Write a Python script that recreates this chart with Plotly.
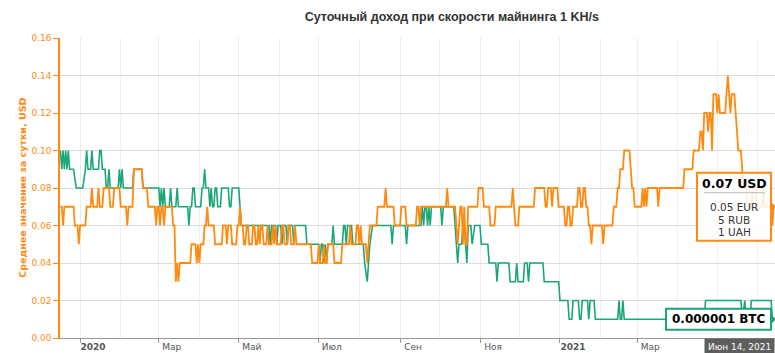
import pandas as pd
import plotly.graph_objects as go

# ---- data -------------------------------------------------------------
# days counted from 2020-01-01 (negative = December 2019)
usd_days = [-15, -14, -13, -12, -5, -4, -2, -1, 0, 4, 5, 8, 9, 10, 13, 14, 15, 17, 18, 22, 23, 25, 26, 30, 31, 35,
            36, 37, 40, 41, 47, 48, 51, 52, 57, 58, 59, 60, 61, 62, 63, 64, 65, 70, 71, 72, 73, 74, 75, 76, 84, 85,
            88, 89, 90, 91, 92, 94, 95, 96, 97, 98, 102, 103, 108, 109, 111, 112, 113, 115, 116, 119, 120, 121, 122,
            123, 124, 125, 126, 127, 128, 129, 131, 132, 133, 134, 135, 136, 137, 138, 139, 140, 142, 143, 144, 146,
            147, 148, 149, 150, 153, 154, 155, 156, 158, 159, 160, 161, 163, 164, 165, 176, 177, 181, 182, 183, 185,
            186, 187, 188, 189, 193, 194, 199, 200, 205, 206, 207, 210, 211, 212, 213, 214, 215, 218, 219, 220, 221,
            226, 227, 232, 233, 234, 239, 240, 244, 245, 248, 249, 256, 257, 258, 259, 260, 279, 280, 281, 286, 287,
            288, 290, 291, 292, 293, 294, 295, 296, 303, 304, 307, 308, 312, 313, 316, 317, 329, 330, 331, 332, 334,
            335, 346, 347, 354, 355, 356, 357, 359, 360, 361, 364, 365, 369, 370, 371, 372, 373, 374, 375, 376, 379,
            380, 381, 382, 383, 384, 385, 386, 387, 388, 389, 390, 391, 398, 399, 400, 406, 407, 409, 410, 411, 412,
            414, 415, 419, 420, 421, 422, 423, 428, 429, 430, 431, 432, 433, 440, 441, 442, 460, 461, 467, 468, 472,
            473, 474, 475, 476, 478, 479, 480, 481, 482, 483, 485, 486, 487, 488, 492, 493, 494, 495, 496, 497, 499,
            500, 501, 502, 504, 505, 506, 508, 509, 512, 513, 515, 516, 520, 521, 522, 527, 528, 529, 530]
usd_values = [0.07, 0.07, 0.06, 0.07, 0.07, 0.06, 0.06, 0.05, 0.06, 0.06, 0.07, 0.07, 0.08, 0.07, 0.07, 0.08, 0.07,
              0.07, 0.08, 0.08, 0.07, 0.07, 0.08, 0.08, 0.07, 0.07, 0.06, 0.07, 0.07, 0.09, 0.09, 0.08, 0.08, 0.07,
              0.07, 0.06, 0.07, 0.07, 0.06, 0.07, 0.07, 0.06, 0.07, 0.07, 0.06, 0.06, 0.03, 0.04, 0.03, 0.04, 0.04,
              0.05, 0.05, 0.04, 0.05, 0.04, 0.05, 0.05, 0.06, 0.06, 0.07, 0.06, 0.06, 0.05, 0.05, 0.06, 0.06, 0.05,
              0.06, 0.06, 0.05, 0.05, 0.06, 0.06, 0.07, 0.06, 0.06, 0.05, 0.05, 0.06, 0.06, 0.05, 0.05, 0.06, 0.06,
              0.05, 0.05, 0.06, 0.05, 0.06, 0.06, 0.05, 0.05, 0.06, 0.05, 0.05, 0.06, 0.05, 0.06, 0.05, 0.05, 0.06,
              0.06, 0.05, 0.05, 0.06, 0.06, 0.05, 0.05, 0.06, 0.05, 0.05, 0.04, 0.04, 0.05, 0.04, 0.04, 0.05, 0.04,
              0.04, 0.05, 0.05, 0.04, 0.04, 0.05, 0.05, 0.06, 0.05, 0.05, 0.06, 0.06, 0.05, 0.06, 0.05, 0.05, 0.04,
              0.05, 0.06, 0.06, 0.07, 0.07, 0.08, 0.07, 0.07, 0.06, 0.06, 0.07, 0.07, 0.06, 0.06, 0.07, 0.07, 0.06,
              0.07, 0.07, 0.08, 0.07, 0.07, 0.06, 0.05, 0.07, 0.07, 0.05, 0.07, 0.05, 0.05, 0.07, 0.07, 0.08, 0.08,
              0.07, 0.07, 0.06, 0.06, 0.07, 0.07, 0.08, 0.07, 0.06, 0.06, 0.07, 0.07, 0.08, 0.08, 0.07, 0.07, 0.08,
              0.08, 0.07, 0.08, 0.08, 0.07, 0.07, 0.06, 0.06, 0.07, 0.07, 0.06, 0.06, 0.07, 0.07, 0.08, 0.08, 0.07,
              0.07, 0.08, 0.08, 0.07, 0.07, 0.06, 0.06, 0.05, 0.06, 0.06, 0.05, 0.06, 0.06, 0.07, 0.07, 0.08, 0.08,
              0.09, 0.09, 0.10, 0.10, 0.09, 0.08, 0.08, 0.07, 0.07, 0.08, 0.07, 0.08, 0.07, 0.08, 0.08, 0.07, 0.08,
              0.08, 0.09, 0.09, 0.10, 0.10, 0.11, 0.11, 0.10, 0.12, 0.12, 0.11, 0.12, 0.12, 0.10, 0.13, 0.13, 0.12,
              0.13, 0.12, 0.12, 0.13, 0.14, 0.13, 0.12, 0.13, 0.13, 0.12, 0.11, 0.10, 0.10, 0.09, 0.08, 0.08, 0.07,
              0.07, 0.08, 0.08, 0.07, 0.07, 0.08, 0.07, 0.07, 0.06, 0.07, 0.07]

btc_days = [-15, -14, -13, -12, -11, -10, -9, -8, -5, -3, 2, 4, 5, 6, 8, 9, 10, 14, 15, 16, 17, 19, 20, 21, 22, 23,
            29, 30, 31, 32, 33, 40, 41, 47, 48, 60, 61, 62, 63, 64, 65, 68, 69, 70, 73, 74, 75, 82, 83, 84, 85, 86,
            87, 88, 92, 93, 94, 95, 96, 98, 99, 100, 101, 102, 103, 104, 105, 107, 108, 113, 114, 115, 116, 121, 122,
            123, 144, 145, 146, 149, 150, 151, 153, 154, 155, 157, 158, 159, 162, 163, 164, 172, 173, 182, 183, 184,
            185, 186, 187, 188, 189, 192, 193, 194, 200, 201, 202, 203, 204, 207, 208, 216, 217, 219, 221, 223, 237,
            238, 239, 248, 249, 250, 260, 261, 262, 263, 264, 265, 266, 267, 268, 275, 276, 277, 285, 286, 288, 289,
            291, 292, 293, 295, 296, 298, 299, 301, 305, 306, 311, 312, 317, 318, 319, 327, 328, 332, 333, 334, 338,
            339, 341, 342, 343, 353, 354, 365, 366, 372, 373, 375, 376, 380, 381, 382, 383, 387, 388, 389, 392, 393,
            410, 411, 412, 413, 414, 415, 476, 477, 504, 505, 507, 508, 511, 512, 527, 528, 530]
btc_values = [0.10, 0.09, 0.10, 0.09, 0.10, 0.09, 0.10, 0.09, 0.09, 0.08, 0.08, 0.09, 0.10, 0.09, 0.09, 0.10, 0.09,
              0.09, 0.10, 0.10, 0.09, 0.09, 0.08, 0.08, 0.09, 0.08, 0.08, 0.09, 0.08, 0.09, 0.08, 0.08, 0.09, 0.09,
              0.08, 0.08, 0.07, 0.08, 0.07, 0.08, 0.07, 0.07, 0.08, 0.07, 0.07, 0.08, 0.07, 0.07, 0.06, 0.07, 0.07,
              0.08, 0.08, 0.07, 0.07, 0.08, 0.08, 0.09, 0.08, 0.08, 0.07, 0.08, 0.07, 0.07, 0.08, 0.08, 0.07, 0.07,
              0.08, 0.08, 0.07, 0.07, 0.08, 0.08, 0.07, 0.06, 0.06, 0.05, 0.06, 0.06, 0.05, 0.06, 0.06, 0.05, 0.06,
              0.06, 0.05, 0.06, 0.06, 0.05, 0.06, 0.06, 0.05, 0.05, 0.04, 0.05, 0.05, 0.04, 0.05, 0.04, 0.05, 0.05,
              0.06, 0.05, 0.05, 0.06, 0.06, 0.05, 0.06, 0.06, 0.05, 0.05, 0.04, 0.03, 0.05, 0.06, 0.06, 0.05, 0.06,
              0.06, 0.05, 0.06, 0.06, 0.07, 0.06, 0.07, 0.07, 0.06, 0.07, 0.06, 0.07, 0.07, 0.06, 0.07, 0.07, 0.06,
              0.04, 0.05, 0.05, 0.06, 0.06, 0.04, 0.06, 0.06, 0.05, 0.06, 0.06, 0.05, 0.05, 0.04, 0.04, 0.03, 0.04,
              0.04, 0.03, 0.03, 0.04, 0.03, 0.03, 0.04, 0.04, 0.03, 0.04, 0.04, 0.03, 0.03, 0.02, 0.02, 0.01, 0.01,
              0.02, 0.02, 0.01, 0.01, 0.02, 0.02, 0.01, 0.02, 0.02, 0.01, 0.01, 0.02, 0.01, 0.01, 0.02, 0.01, 0.01,
              0.02, 0.02, 0.01, 0.02, 0.01, 0.01, 0.02, 0.02, 0.01, 0.01]

tick_dates = ["2020-01-01", "2020-03-01", "2020-05-01", "2020-07-01", "2020-09-01",
              "2020-11-01", "2021-01-01", "2021-03-01"]
tick_labels = ["<b>2020</b>", "Мар", "Май", "Июл", "Сен", "Ноя", "<b>2021</b>", "Мар"]
y_ticks = [0.00, 0.02, 0.04, 0.06, 0.08, 0.10, 0.12, 0.14, 0.16]

tooltip_main = "0.07 USD"
tooltip_lines = ["0.05 EUR", "5 RUB", "1 UAH"]
btc_label = "0.000001 BTC"
date_label = "Июн 14, 2021"
title_text = "Суточный доход при скорости майнинга 1 KH/s"
y_title = "Среднее значение за сутки, USD"

# ---- figure -----------------------------------------------------------
ORANGE = "#ff8a12"
GREEN = "#1ba57a"
FONT = "DejaVu Sans"

base = pd.Timestamp("2020-01-01")
usd_x = base + pd.to_timedelta(usd_days, unit="D")
btc_x = base + pd.to_timedelta(btc_days, unit="D")

fig = go.Figure()
fig.add_trace(go.Scatter(x=btc_x, y=btc_values, mode="lines",
                         line=dict(color=GREEN, width=1.6), hoverinfo="skip"))
fig.add_trace(go.Scatter(x=usd_x, y=usd_values, mode="lines",
                         line=dict(color=ORANGE, width=1.8), hoverinfo="skip"))

last_x = usd_x[-1]
last_usd = usd_values[-1]
last_btc = btc_values[-1]

shapes = [
    # tooltip box for USD
    dict(type="rect", xref="x", yref="y", xsizemode="pixel", ysizemode="pixel",
         xanchor=last_x, yanchor=last_usd, x0=-78, x1=-4, y0=-34, y1=34,
         line=dict(color=ORANGE, width=2), fillcolor="rgba(255,255,255,0.85)", layer="above"),
    dict(type="path", xref="x", yref="y", xsizemode="pixel", ysizemode="pixel",
         xanchor=last_x, yanchor=last_usd, path="M -4 4 L 0 0 L -4 -4 Z",
         line=dict(color=ORANGE, width=1.5), fillcolor=ORANGE, layer="above"),
    dict(type="line", xref="x", yref="y", xsizemode="pixel", ysizemode="pixel",
         xanchor=last_x, yanchor=last_usd, x0=-71, x1=-10, y0=14, y1=14,
         line=dict(color="#b8b8b8", width=1), layer="above"),
    # BTC label box
    dict(type="rect", xref="x", yref="y", xsizemode="pixel", ysizemode="pixel",
         xanchor=last_x, yanchor=last_btc, x0=-109, x1=-4, y0=-10.5, y1=10.5,
         line=dict(color=GREEN, width=2), fillcolor="white", layer="above"),
    dict(type="path", xref="x", yref="y", xsizemode="pixel", ysizemode="pixel",
         xanchor=last_x, yanchor=last_btc, path="M -4 4 L 0 0 L -4 -4 Z",
         line=dict(color=GREEN, width=1.5), fillcolor=GREEN, layer="above"),
]

annotations = [
    dict(x=last_x, y=last_usd, xref="x", yref="y", text="<b>" + tooltip_main + "</b>",
         showarrow=False, xshift=-41, yshift=23, font=dict(family=FONT, size=12.5, color="#000000")),
    dict(x=last_x, y=last_usd, xref="x", yref="y", text=tooltip_lines[0],
         showarrow=False, xshift=-41, yshift=0, font=dict(family=FONT, size=10.5, color="#333333")),
    dict(x=last_x, y=last_usd, xref="x", yref="y", text=tooltip_lines[1],
         showarrow=False, xshift=-41, yshift=-13, font=dict(family=FONT, size=10.5, color="#333333")),
    dict(x=last_x, y=last_usd, xref="x", yref="y", text=tooltip_lines[2],
         showarrow=False, xshift=-41, yshift=-25, font=dict(family=FONT, size=10.5, color="#333333")),
    dict(x=last_x, y=last_btc, xref="x", yref="y", text="<b>" + btc_label + "</b>",
         showarrow=False, xshift=-56, yshift=0, font=dict(family=FONT, size=12, color="#000000")),
    dict(x=last_x, y=0, xref="x", yref="paper", text=date_label, showarrow=False,
         xanchor="right", yanchor="top", bgcolor="rgba(80,80,80,0.92)", borderpad=3,
         font=dict(family=FONT, size=9, color="#ffffff")),
    dict(x=-0.0535, y=0.5, xref="paper", yref="paper", text="<b>" + y_title + "</b>",
         textangle=-90, showarrow=False, xanchor="center", yanchor="middle",
         font=dict(family=FONT, size=9.5, color=ORANGE)),
]

fig.update_layout(
    width=775, height=353,
    margin=dict(l=60, r=0, t=38, b=15),
    paper_bgcolor="white", plot_bgcolor="white",
    showlegend=False,
    title=dict(text="<b>" + title_text + "</b>", x=0.583, xref="container", xanchor="center",
               y=0.952, yref="container", yanchor="middle",
               font=dict(family="Liberation Sans", size=12.5, color="#333333")),
    shapes=shapes,
    annotations=annotations,
    hovermode=False,
)

fig.update_xaxes(
    type="date",
    range=["2019-12-16 16:00", "2021-06-14"],
    tickmode="array", tickvals=tick_dates, ticktext=tick_labels,
    ticks="outside", ticklen=4, tickcolor="#999999",
    ticklabelshift=13, ticklabelstandoff=-4,
    tickfont=dict(family=FONT, size=9, color="#555555"),
    showgrid=True, gridcolor="#ececec", gridwidth=1,
    minor=dict(dtick="M1", tick0="2020-01-01", showgrid=True, gridcolor="#f1f1f1", ticks=""),
    showline=True, linecolor="#999999", linewidth=1,
    zeroline=False, automargin=False, fixedrange=True,
)
fig.update_yaxes(
    range=[0, 0.16], tickmode="array", tickvals=y_ticks,
    ticktext=[f"{v:.2f}" for v in y_ticks],
    ticks="outside", ticklen=5, tickcolor=ORANGE,
    tickfont=dict(family=FONT, size=9, color=ORANGE),
    showgrid=True, gridcolor="#dcdcdc", gridwidth=1,
    showline=True, linecolor=ORANGE, linewidth=1.5,
    zeroline=False, automargin=False, fixedrange=True,
)

fig.write_html("out.html")
